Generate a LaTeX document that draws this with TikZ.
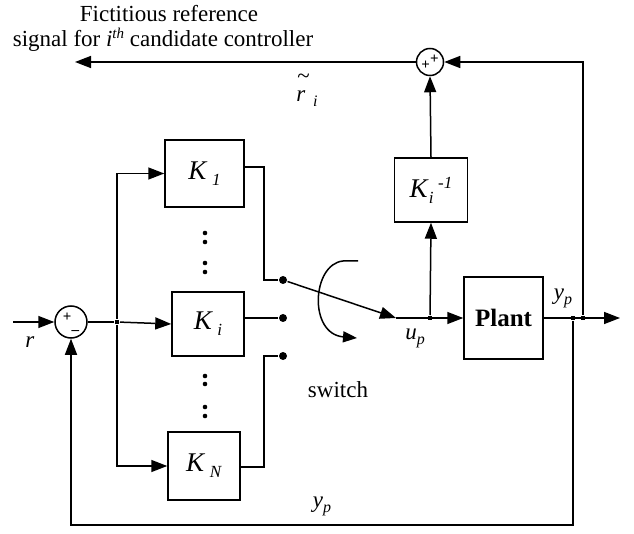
\documentclass[tikz,border=0pt]{standalone}
\usepackage{fontspec}
\setmainfont{Liberation Serif}
\usetikzlibrary{arrows.meta,calc}
\newcommand{\mysub}[1]{\raisebox{-5pt}{\fontsize{16}{16}\selectfont\textit{#1}}}
\newcommand{\ksub}[1]{\raisebox{-6pt}{\fontsize{17}{17}\selectfont\textit{#1}}}
\begin{document}
\begin{tikzpicture}[x=1pt,y=-1pt,line width=1.5pt,
  >={Triangle[length=16pt,width=12pt]},
  every node/.append style={font=\fontsize{23}{27}\selectfont},
  blk/.style={draw,rectangle,inner sep=0pt,font=\fontsize{27}{30}\selectfont},
  sumc/.style={draw,circle,inner sep=0pt,font=\fontsize{15}{15}\selectfont\bfseries},
  contact/.style={circle,fill,inner sep=0pt,minimum size=8pt},
  bpt/.style={rectangle,fill,inner sep=0pt,minimum size=4.5pt},
  lbl/.style={inner sep=0pt}]
\useasboundingbox (0,0) rectangle (634,534);

% blocks
\node[blk,minimum width=79pt,minimum height=67pt] (K1) at (204.5,173.5) {\textit{K}\,\ksub{1}};
\node[blk,minimum width=72pt,minimum height=64pt] (Ki) at (208,324) {\textit{K}\,\ksub{i}};
\node[blk,minimum width=72pt,minimum height=68pt] (KN) at (204,466) {\textit{K}\,\ksub{N}};
\node[blk,minimum width=73pt,minimum height=64pt] (Kinv) at (431,190) {\textit{K}\raisebox{-6pt}{\fontsize{17}{17}\selectfont\textit{i}}\,\raisebox{9pt}{\fontsize{17}{17}\selectfont\textit{-1}}};
\node[blk,minimum width=79pt,minimum height=82pt,font=\fontsize{25}{28}\selectfont\bfseries] (P) at (503.5,318) {Plant};

% summing junctions
\node[sumc,minimum size=32pt] (sL) at (71,322) {\raisebox{2pt}{+}\raisebox{-6pt}{\_}};
\node[sumc,minimum size=27pt] (sT) at (430,62) {\raisebox{-3pt}{+}\raisebox{3pt}{+}};

% switch contacts
\node[contact] (d1) at (283,280) {};
\node[contact] (d2) at (283,318) {};
\node[contact] (d3) at (283,356) {};

% branch points
\node[bpt] (b1) at (117,322) {};
\node[bpt] (b2) at (430,318) {};
\node[bpt] (b3) at (573,318) {};
\node[bpt] (b4) at (583,318) {};

% free ends
\coordinate (rin) at (13,322);
\coordinate (fict) at (75,62);
\coordinate (yout) at (620,318);
\coordinate (sw) at (396,318);

% connectors
\draw[->] (rin) -- (sL.west);
\draw (sL.east) -- (b1);
\draw[->] (b1) -- (Ki.west);
\draw[->] (b1) |- (K1.west);
\draw[->] (b1) |- (KN.west);
\draw ([yshift=6.5pt]K1.east) -| ($(d1)+(-19,0)$) -- (d1);
\draw ([yshift=6pt]Ki.east) -- (d2);
\draw ([yshift=-1pt]KN.east) -| ($(d3)+(-19,0)$) -- (d3);
\draw[->] (d1) -- (sw);
\draw[->] (sw) -- (P.west);
\draw[->] (b2) -- (Kinv.south);
\draw[->] (Kinv.north) -- (sT.south);
\draw[->] (sT.west) -- (fict);
\draw[->] (P.east) -- (yout);
\draw[->] (b4) |- (sT.east);
\draw[->] (b3) -- ++(0,207) -| (sL.south);

% switch actuator
\draw[-{Triangle[length=14pt,width=11pt]}] (358,261) -- (343,261) .. controls (312,264) and (308,334) .. (357,338);

% ellipsis dots
\foreach \yy in {233,242,263,272,376,384,407,416}
  \fill (205,\yy) circle (2.3pt);

% labels
\node[lbl] at (169,14) {Fictitious reference};
\node[lbl] at (163,40) {signal for \textit{i}\raisebox{8pt}{\fontsize{15}{15}\selectfont\textit{th}} candidate controller};
\node[lbl] at (307,90) {\shortstack[l]{\hspace{1pt}\textasciitilde\\[4pt]\textit{r}\,\,\mysub{i}}};
\node[lbl] at (30,342) {\textit{r}};
\node[lbl] at (415,338) {\textit{u}\mysub{p}};
\node[lbl] at (563,298) {\textit{y}\mysub{p}};
\node[lbl] at (322,506) {\textit{y}\mysub{p}};
\node[lbl] at (338,390) {switch};
\end{tikzpicture}
\end{document}
